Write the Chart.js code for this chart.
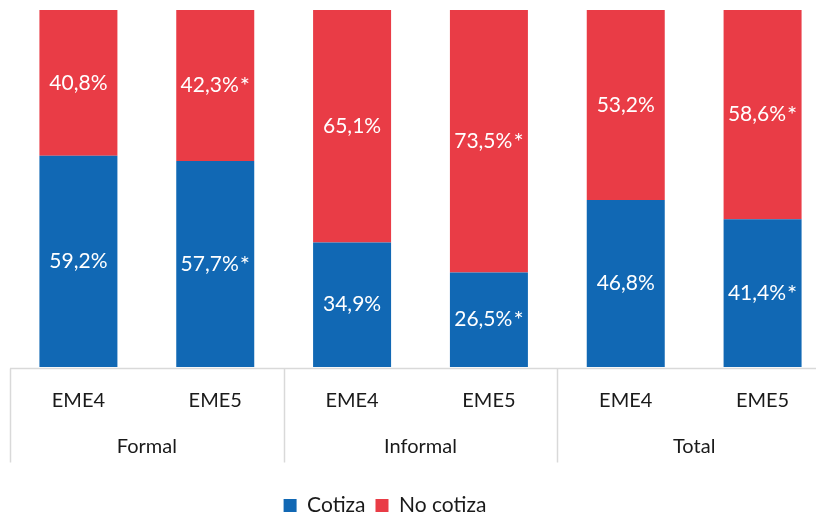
<!DOCTYPE html>
<html>
<head>
<meta charset="utf-8">
<script src="https://cdn.jsdelivr.net/npm/chart.js@4/dist/chart.umd.min.js"></script>
<style>
  html, body { margin: 0; padding: 0; background: #fff; overflow: hidden; }
  #wrap { width: 831px; height: 516px; }
</style>
</head>
<body>
<div id="wrap"><canvas id="c"></canvas></div>
<script>
const periods = ['EME4', 'EME5', 'EME4', 'EME5', 'EME4', 'EME5'];
const groups = ['Formal', 'Informal', 'Total'];
const cotiza = [59.2, 57.7, 34.9, 26.5, 46.8, 41.4];
const noCotiza = [40.8, 42.3, 65.1, 73.5, 53.2, 58.6];
const significant = [false, true, false, true, false, true];
const seriesNames = ['Cotiza', 'No cotiza'];

const BLUE = '#1168b4';
const RED = '#e93c46';
const FONT = 'Lato, "Open Sans", sans-serif';
const TEXT = '#1a1a1a';
const LINE = '#d9d9d9';

const labelPlugin = {
  id: 'labelPlugin',
  afterLayout(chart) {
    const lg = chart.legend;
    if (lg) {
      const shift = 385 - (lg.left + lg.right) / 2;
      lg.left += shift;
      lg.right += shift;
      lg.top += 10;
      lg.bottom += 10;
    }
  },
  afterDatasetsDraw(chart) {
    const ctx = chart.ctx;
    ctx.save();
    ctx.fillStyle = '#ffffff';
    ctx.textBaseline = 'middle';
    ctx.textAlign = 'left';
    chart.data.datasets.forEach((ds, di) => {
      const meta = chart.getDatasetMeta(di);
      meta.data.forEach((bar, i) => {
        const v = ds.data[i];
        const txt = v.toFixed(1).replace('.', ',') + '%';
        const y = (bar.y + bar.base) / 2;
        ctx.font = '21px ' + FONT;
        const w1 = ctx.measureText(txt).width;
        let w2 = 0;
        if (significant[i]) {
          ctx.font = '24px ' + FONT;
          w2 = ctx.measureText('*').width + 1;
        }
        const x0 = bar.x - (w1 + w2) / 2;
        ctx.font = '21px ' + FONT;
        ctx.fillText(txt, x0, y);
        if (significant[i]) {
          ctx.font = '24px ' + FONT;
          ctx.fillText('*', x0 + w1 + 1, y + 1);
        }
      });
    });
    ctx.restore();
  },
  afterDraw(chart) {
    const ctx = chart.ctx;
    const xs = chart.scales.x;
    const area = chart.chartArea;
    const step = xs.getPixelForValue(1) - xs.getPixelForValue(0);
    const axisY = area.bottom + 1.5;
    ctx.save();
    ctx.strokeStyle = LINE;
    ctx.lineWidth = 1.5;
    ctx.beginPath();
    ctx.moveTo(area.left, axisY);
    ctx.lineTo(area.right, axisY);
    ctx.stroke();
    for (let g = 0; g <= groups.length; g++) {
      const x = Math.round(xs.getPixelForValue(g * 2) - step / 2) + 0.5;
      ctx.beginPath();
      ctx.moveTo(x, axisY);
      ctx.lineTo(x, axisY + 94);
      ctx.stroke();
    }
    ctx.fillStyle = TEXT;
    ctx.font = '20px ' + FONT;
    ctx.textAlign = 'center';
    ctx.textBaseline = 'middle';
    periods.forEach((p, i) => {
      ctx.fillText(p, xs.getPixelForValue(i), axisY + 32);
    });
    groups.forEach((g, k) => {
      const x = (xs.getPixelForValue(2 * k) + xs.getPixelForValue(2 * k + 1)) / 2;
      ctx.fillText(g, x, axisY + 78);
    });
    ctx.restore();
  }
};

new Chart(document.getElementById('c'), {
  type: 'bar',
  data: {
    labels: periods.map((p, i) => groups[Math.floor(i / 2)] + ' ' + p),
    datasets: [
      { label: seriesNames[0], data: cotiza, backgroundColor: BLUE, borderWidth: 0,
        categoryPercentage: 1, barPercentage: 0.57 },
      { label: seriesNames[1], data: noCotiza, backgroundColor: RED, borderWidth: 0,
        categoryPercentage: 1, barPercentage: 0.57 }
    ]
  },
  options: {
    responsive: true,
    maintainAspectRatio: false,
    animation: false,
    devicePixelRatio: 1,
    layout: { padding: { top: 10, left: 10, right: 0, bottom: 0 } },
    scales: {
      x: {
        stacked: true,
        grid: { display: false },
        border: { display: false },
        ticks: { display: false },
        afterFit(scale) { scale.height = 108; }
      },
      y: {
        stacked: true,
        min: 0,
        max: 100,
        display: false
      }
    },
    plugins: {
      legend: {
        position: 'bottom',
        labels: {
          font: { family: FONT, size: 21 },
          color: TEXT,
          boxWidth: 13,
          boxHeight: 13,
          padding: 10
        }
      },
      tooltip: { enabled: false }
    }
  },
  plugins: [labelPlugin]
});
</script>
</body>
</html>
